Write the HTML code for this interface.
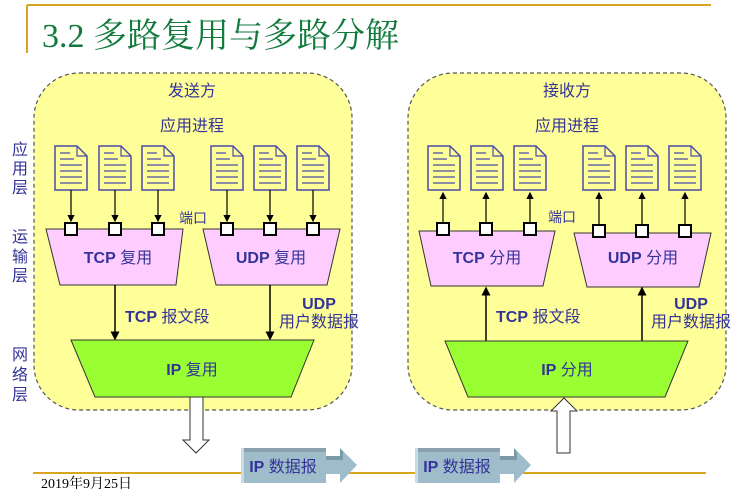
<!DOCTYPE html>
<html><head><meta charset="utf-8"><style>
html,body{margin:0;padding:0;background:#fff;}
svg{display:block;}
text{font-family:"Liberation Sans","Noto Sans CJK SC",sans-serif;fill:#333399;}
.b{font-weight:bold;}
</style></head><body>
<svg width="736" height="493" viewBox="0 0 736 493" xmlns="http://www.w3.org/2000/svg">
<defs>
<g id="doc">
<path d="M0,0 H22 L32,10 V44 H0 Z" fill="#ffff99" stroke="#4a4aa8" stroke-width="1.5"/>
<path d="M22,0 V10 H32" fill="none" stroke="#4a4aa8" stroke-width="1.2"/>
<path d="M5,7 H15 M5,13 H19 M5,19 H27 M5,25 H27 M5,31 H27 M5,37 H27" stroke="#4a4aa8" stroke-width="1.3"/>
</g>
<marker id="ah" markerWidth="6" markerHeight="6" refX="5" refY="3" orient="auto"><path d="M0,0 L6,3 L0,6 Z" fill="#000"/></marker>
</defs>
<line x1="27" y1="5" x2="711" y2="5" stroke="#d9a520" stroke-width="2"/>
<line x1="27" y1="5" x2="27" y2="53" stroke="#d9a520" stroke-width="2"/>
<text x="42" y="47" style="font-family:'Liberation Serif','Noto Serif CJK SC',serif;fill:#117a3c" font-size="34">3.2 多路复用与多路分解</text>

<g font-size="16">
<text x="12" y="155">应</text><text x="12" y="174">用</text><text x="12" y="193">层</text>
<text x="12" y="242">运</text><text x="12" y="262">输</text><text x="12" y="281">层</text>
<text x="12" y="360">网</text><text x="12" y="380">络</text><text x="12" y="400">层</text>
</g>

<rect x="34" y="73" width="318" height="337" rx="45" fill="#ffff99" stroke="#555" stroke-width="1.2" stroke-dasharray="4,3"/>
<rect x="408" y="73" width="318" height="337" rx="45" fill="#ffff99" stroke="#555" stroke-width="1.2" stroke-dasharray="4,3"/>

<g font-size="16" text-anchor="middle">
<text x="192" y="96">发送方</text><text x="192" y="131">应用进程</text>
<text x="567" y="96">接收方</text><text x="567" y="131">应用进程</text>
</g>

<use href="#doc" x="55" y="146"/><use href="#doc" x="99" y="146"/><use href="#doc" x="142" y="146"/>
<use href="#doc" x="211" y="146"/><use href="#doc" x="254" y="146"/><use href="#doc" x="297" y="146"/>
<g stroke="#000" stroke-width="1.2" marker-end="url(#ah)">
<line x1="71" y1="190" x2="71" y2="221"/><line x1="115" y1="190" x2="115" y2="221"/><line x1="158" y1="190" x2="158" y2="221"/>
<line x1="227" y1="190" x2="227" y2="221"/><line x1="270" y1="190" x2="270" y2="221"/><line x1="313" y1="190" x2="313" y2="221"/>
</g>
<polygon points="46,229 183,229 176,285 60,285" fill="#ffccff" stroke="#333" stroke-width="1"/>
<polygon points="203,229 340,229 327,285 216,285" fill="#ffccff" stroke="#333" stroke-width="1"/>
<g fill="#fff" stroke="#000" stroke-width="2">
<rect x="65" y="223" width="12" height="12"/><rect x="109" y="223" width="12" height="12"/><rect x="152" y="223" width="12" height="12"/>
<rect x="221" y="223" width="12" height="12"/><rect x="264" y="223" width="12" height="12"/><rect x="307" y="223" width="12" height="12"/>
</g>
<text x="179" y="223" font-size="14">端口</text>
<text x="118" y="263" font-size="16" text-anchor="middle"><tspan class="b">TCP</tspan> 复用</text>
<text x="271" y="263" font-size="16" text-anchor="middle"><tspan class="b">UDP</tspan> 复用</text>
<g stroke="#000" stroke-width="1.5" marker-end="url(#ah)">
<line x1="115" y1="285" x2="115" y2="339"/><line x1="270" y1="285" x2="270" y2="339"/>
</g>
<text x="125" y="322" font-size="16"><tspan class="b">TCP</tspan> 报文段</text>
<text x="319" y="309" font-size="16" class="b" text-anchor="middle">UDP</text>
<text x="319" y="327" font-size="16" text-anchor="middle">用户数据报</text>
<polygon points="71,340 314,340 291,397 95,397" fill="#99ff33" stroke="#333" stroke-width="1"/>
<text x="192" y="375" font-size="16" text-anchor="middle"><tspan class="b">IP</tspan> 复用</text>
<polygon points="190,397 203,397 203,440 209,440 196,453 183,440 190,440" fill="#fff" stroke="#333" stroke-width="1"/>

<use href="#doc" x="428" y="146"/><use href="#doc" x="471" y="146"/><use href="#doc" x="514" y="146"/>
<use href="#doc" x="583" y="146"/><use href="#doc" x="626" y="146"/><use href="#doc" x="669" y="146"/>
<g stroke="#000" stroke-width="1.2" marker-end="url(#ah)">
<line x1="443" y1="222" x2="443" y2="193"/><line x1="486" y1="222" x2="486" y2="193"/><line x1="530" y1="222" x2="530" y2="193"/>
<line x1="599" y1="224" x2="599" y2="193"/><line x1="642" y1="224" x2="642" y2="193"/><line x1="685" y1="224" x2="685" y2="193"/>
</g>
<polygon points="419,231 555,231 543,286 431,286" fill="#ffccff" stroke="#333" stroke-width="1"/>
<polygon points="574,233 711,233 699,287 587,287" fill="#ffccff" stroke="#333" stroke-width="1"/>
<g fill="#fff" stroke="#000" stroke-width="2">
<rect x="437" y="223" width="12" height="12"/><rect x="480" y="223" width="12" height="12"/><rect x="524" y="223" width="12" height="12"/>
<rect x="593" y="225" width="12" height="12"/><rect x="636" y="225" width="12" height="12"/><rect x="679" y="225" width="12" height="12"/>
</g>
<text x="548" y="222" font-size="14">端口</text>
<text x="487" y="263" font-size="16" text-anchor="middle"><tspan class="b">TCP</tspan> 分用</text>
<text x="643" y="263" font-size="16" text-anchor="middle"><tspan class="b">UDP</tspan> 分用</text>
<g stroke="#000" stroke-width="1.5" marker-end="url(#ah)">
<line x1="486" y1="341" x2="486" y2="288"/><line x1="642" y1="341" x2="642" y2="288"/>
</g>
<text x="496" y="322" font-size="16"><tspan class="b">TCP</tspan> 报文段</text>
<text x="691" y="309" font-size="16" class="b" text-anchor="middle">UDP</text>
<text x="691" y="327" font-size="16" text-anchor="middle">用户数据报</text>
<polygon points="445,341 688,341 665,397 468,397" fill="#99ff33" stroke="#333" stroke-width="1"/>
<text x="567" y="375" font-size="16" text-anchor="middle"><tspan class="b">IP</tspan> 分用</text>
<polygon points="557,453 570,453 570,411 577,411 564,398 551,411 557,411" fill="#fff" stroke="#333" stroke-width="1"/>

<line x1="33" y1="473" x2="706" y2="473" stroke="#d9a520" stroke-width="2"/>
<text x="41" y="488" font-size="14" style="font-family:'Liberation Serif','Noto Serif CJK SC',serif;fill:#000">2019年9月25日</text>

<g>
<polygon points="326,456 340,456 340,448 357,465 340,483 340,474 326,474" fill="#9fbccb"/>
<polygon points="326,456 340,456 340,448 343,452 343,460 326,460" fill="#7b98a6"/>
<rect x="241" y="448" width="85" height="35" fill="#9fbccb"/>
<rect x="241" y="448" width="85" height="4" fill="#8aa2ae"/>
<rect x="241" y="448" width="3" height="35" fill="#c9dbe4"/>
<text x="283" y="472" font-size="16" text-anchor="middle"><tspan class="b">IP</tspan> 数据报</text>
</g>
<g>
<polygon points="500,456 514,456 514,448 531,465 514,483 514,474 500,474" fill="#9fbccb"/>
<polygon points="500,456 514,456 514,448 517,452 517,460 500,460" fill="#7b98a6"/>
<rect x="415" y="448" width="85" height="35" fill="#9fbccb"/>
<rect x="415" y="448" width="85" height="4" fill="#8aa2ae"/>
<rect x="415" y="448" width="3" height="35" fill="#c9dbe4"/>
<text x="457" y="472" font-size="16" text-anchor="middle"><tspan class="b">IP</tspan> 数据报</text>
</g>
</svg>
</body></html>
